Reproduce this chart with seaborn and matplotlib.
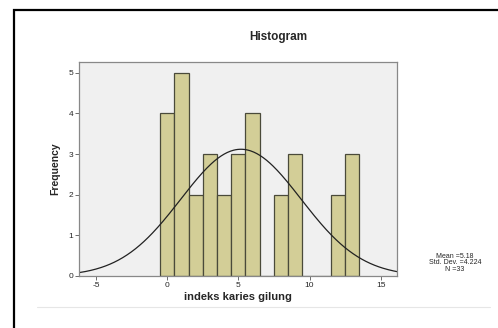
import numpy as np
import pandas as pd
import matplotlib
matplotlib.use("Agg")
import matplotlib.pyplot as plt
import seaborn as sns
from matplotlib.patches import Rectangle
from matplotlib.lines import Line2D

# values (bin centre -> frequency)
scores = [0, 1, 2, 3, 4, 5, 6, 7, 8, 9, 10, 11, 12, 13]
freqs = [4, 5, 2, 3, 2, 3, 4, 0, 2, 3, 0, 0, 2, 3]
x_ticks = [-5, 0, 5, 10, 15]
y_ticks = [0, 1, 2, 3, 4, 5]

df = pd.DataFrame({"indeks karies gilung": np.repeat(scores, freqs)})
vals = df["indeks karies gilung"]
n = len(vals)
mean = vals.mean()
sd = vals.std()

sns.set_style("white")
plt.rcParams["font.family"] = ["Liberation Sans", "DejaVu Sans"]
plt.rcParams["axes.unicode_minus"] = False

fig = plt.figure(figsize=(4.98, 3.28), dpi=100)
ax = fig.add_axes([79.3 / 498, 1 - 276 / 328, (396.7 - 79.3) / 498, (276 - 61.7) / 328])
ax.set_facecolor("#f0f0f0")

sns.histplot(data=df, x="indeks karies gilung", discrete=True, color="#d3ce97",
             alpha=1, edgecolor="#4a4a3a", linewidth=0.9, ax=ax)

xs = np.linspace(-6.2, 16.2, 300)
curve = n * np.exp(-0.5 * ((xs - mean) / sd) ** 2) / (sd * np.sqrt(2 * np.pi))
sns.lineplot(x=xs, y=curve, color="#222222", linewidth=0.9, ax=ax)

ax.set_xlim(-6.17, 16.12)
ax.set_ylim(0, 5.27)
ax.set_xticks(x_ticks)
ax.set_yticks(y_ticks)
ax.tick_params(axis="both", labelsize=6, length=3, width=0.6, color="#555555",
               pad=1.5, direction="out", bottom=True, left=True)
for s in ax.spines.values():
    s.set_color("#888888")
    s.set_linewidth(0.9)

ax.set_xlabel("indeks karies gilung", fontsize=8, fontweight="bold", labelpad=2)
ax.set_ylabel("Frequency", fontsize=7.5, fontweight="bold", labelpad=6)

fig.text(278 / 498, 1 - 37 / 328, "Histogram", ha="center", va="center",
         fontsize=8.5, fontweight="bold")
fig.text(455 / 498, 1 - 263 / 328,
         "Mean =%.2f\nStd. Dev. =%.3f\nN =%d" % (mean, sd, n),
         ha="center", va="center", fontsize=5, linespacing=0.95)

fig.add_artist(Line2D([37 / 498, 490 / 498], [1 - 307 / 328, 1 - 307 / 328],
                      color="#e6e6e6", linewidth=0.8))
fig.add_artist(Rectangle((14 / 498, -0.05), 1.0, 1 - 10 / 328 + 0.05,
                         fill=False, edgecolor="black", linewidth=1.6,
                         transform=fig.transFigure))

fig.savefig("out.png", dpi=100)
